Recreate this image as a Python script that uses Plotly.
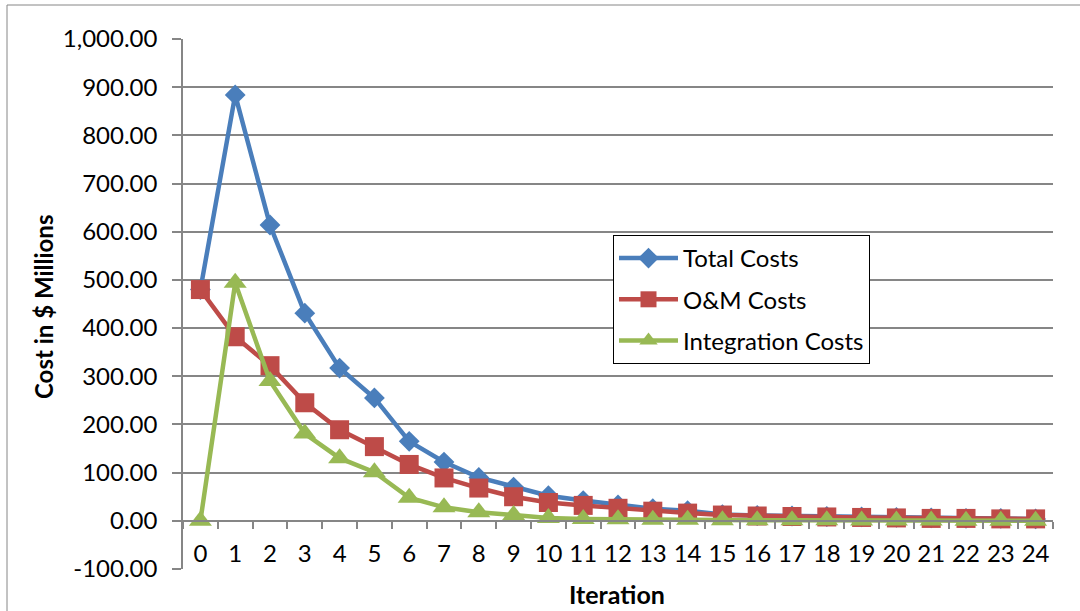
import plotly.graph_objects as go

iterations = [str(i) for i in range(25)]
total_costs = [480, 884, 614, 431, 317, 255, 165, 122, 90, 70, 52, 42, 33, 25, 21,
               13, 11, 10, 9, 8, 7, 6, 5, 5, 4]
om_costs = [480, 382, 322, 245, 189, 154, 117, 89, 68, 50, 38, 32, 26, 20, 16,
            12, 10, 9, 8, 7, 6, 5, 5, 4, 4]
integration_costs = [0, 494, 290, 181, 130, 101, 48, 28, 18, 12, 6, 4, 3, 2, 2,
                     1, 1, 1, 1, 0.5, 0.5, 0.5, 0.3, 0.3, 0.2]
y_ticks = [-100, 0, 100, 200, 300, 400, 500, 600, 700, 800, 900, 1000]
y_tick_labels = [f"{v:,.2f}" for v in y_ticks]

FONT = "Lato"
GRID = "#868686"
FS = 24

fig = go.Figure()
fig.add_trace(go.Scatter(x=iterations, y=total_costs, name="Total Costs", mode="lines+markers",
                         line=dict(color="#4A7EBB", width=4.5), legendgroup="a",
                         marker=dict(symbol="diamond", size=16, color="#4A7EBB")))
fig.add_trace(go.Scatter(x=iterations, y=om_costs, name="O&M Costs", mode="lines+markers",
                         line=dict(color="#BE4B48", width=4.5), legendgroup="b",
                         marker=dict(symbol="square", size=19, color="#BE4B48")))
fig.add_trace(go.Scatter(x=iterations, y=integration_costs, name="Integration Costs", mode="lines+markers",
                         line=dict(color="#98B954", width=4.5), legendgroup="c",
                         marker=dict(symbol="triangle-up", size=20, color="#98B954")))

fig.update_layout(
    width=1080, height=611,
    margin=dict(l=183, r=27, t=39, b=42),
    paper_bgcolor="white", plot_bgcolor="white",
    font=dict(family=FONT, size=FS, color="black"),
    showlegend=True,
    legend=dict(x=(613 - 183) / 870, y=(569 - 235) / 530, xanchor="left", yanchor="top",
                bgcolor="white", bordercolor="black", borderwidth=1,
                font=dict(family=FONT, size=FS, color="black"),
                tracegroupgap=7, traceorder="grouped", itemwidth=59),
    xaxis=dict(type="category", range=[-0.5, 24.5], anchor="free",
               position=100 / 1100, showline=True, linecolor=GRID, linewidth=1.5,
               ticks="outside", tickson="boundaries", ticklen=7, tickcolor=GRID,
               tickwidth=1.5, showgrid=False, ticklabelstandoff=12, tickangle=0,
               tickfont=dict(family=FONT, size=FS, color="black")),
    yaxis=dict(range=[-100, 1000], tickvals=y_ticks, ticktext=y_tick_labels,
               showline=True, linecolor=GRID, linewidth=1.5,
               ticks="outside", ticklen=9, tickcolor=GRID, tickwidth=1.5,
               ticklabelstandoff=10,
               showgrid=True, gridcolor=GRID, gridwidth=1.5, zeroline=False,
               tickfont=dict(family=FONT, size=FS, color="black")),
    annotations=[
        dict(text="<b>Iteration</b>", xref="paper", yref="paper",
             x=(617 - 183) / 870, y=(569 - 594) / 530, showarrow=False,
             font=dict(family=FONT, size=25, color="black"), xanchor="center", yanchor="middle"),
        dict(text="<b>Cost in $ Millions</b>", xref="paper", yref="paper",
             x=(43 - 183) / 870, y=(569 - 307) / 530, showarrow=False, textangle=-90,
             font=dict(family=FONT, size=24, color="black"), xanchor="center", yanchor="middle"),
    ],
    shapes=[dict(type="rect", xref="paper", yref="paper",
                 x0=(7 - 183) / 870, x1=(1090 - 183) / 870,
                 y0=(569 - 625) / 530, y1=(569 - 5) / 530,
                 line=dict(color=GRID, width=1), fillcolor="rgba(0,0,0,0)", layer="below")],
)

fig.write_html("out.html", config={"displayModeBar": False},
               post_script="document.body.style.margin='0px';")
